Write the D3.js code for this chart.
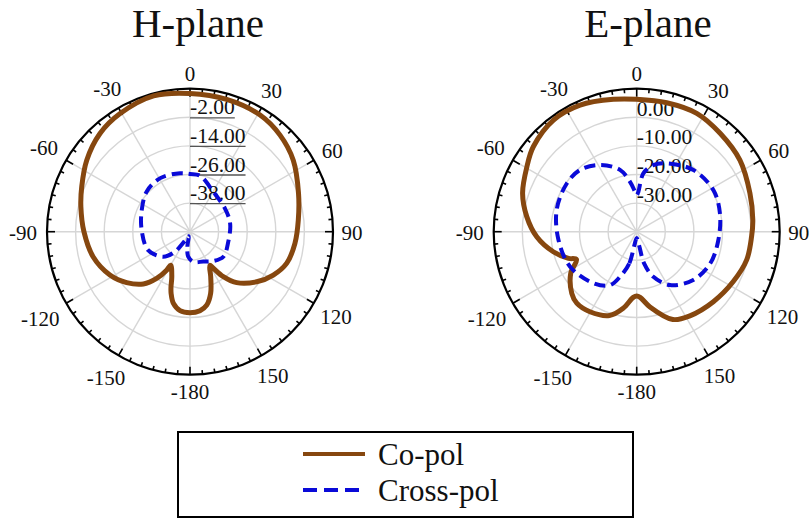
<!DOCTYPE html>
<html>
<head>
<meta charset="utf-8">
<script src="https://cdn.jsdelivr.net/npm/d3@7"></script>
<style>
  html, body { margin: 0; padding: 0; background: #fff; }
  svg { display: block; }
  text { font-family: "Liberation Serif", "Times New Roman", serif; fill: #111; }
</style>
</head>
<body>
<svg id="chart" width="809" height="519" font-family="Liberation Serif, Times New Roman, serif"></svg>
<script>
// ---------- data ----------
const angleTickLabels = [0, 30, 60, 90, 120, 150, -180, -150, -120, -90, -60, -30];

const hRadialTicks = [-2, -14, -26, -38];
const hDomain = [-50, 10];
const hCoAngles = [-180,-172.8,-167,-163,-161,-158,-150,-148.7,-144.5,-138.3,-128.8,-118.4,-104.5,-90,-77,-67.4,-55.3,-42.5,-30.6,-15,0,15.5,31,43,55.3,70.5,83.9,96.3,108,117.5,126.9,137.5,143.5,147.5,149.5,155.3,161.5,167.2,172.8];
const hCoValues = [-16.0,-16.6,-19.1,-22.9,-25.5,-29.6,-33.8,-31.1,-25.9,-20.6,-15.9,-11.8,-8.0,-5.5,-3.0,-0.8,2.7,5.9,7.6,9.0,8.0,7.6,7.1,5.4,2.7,-1.7,-4.3,-5.7,-7.3,-10.6,-15.0,-21.0,-26.5,-31.8,-33.6,-29.2,-22.7,-18.4,-16.6];
const hXAngles = [-176,-170,-165,-158,-143,-133,-113.7,-88,-65.8,-47,-29,-9.7,0,10,30.3,56.3,78,104.6,126.9,141.5,156,173.7];
const hXValues = [-39.5,-43.6,-48.0,-47.5,-39.5,-34.6,-30.8,-29.7,-27.8,-25.2,-24.3,-25.1,-25.8,-26.1,-30.6,-32.4,-32.8,-33.4,-32.5,-34.3,-36.3,-37.3];

const eRadialTicks = [0, -10, -20, -30];
const eDomain = [-40, 10];
const eCoAngles = [-177,-170,-162,-149.7,-140,-133.5,-122.3,-114.8,-111.3,-103.5,-92.9,-82.2,-71.4,-59.4,-50.6,-36.7,-24.1,-10,0,13.1,26.9,40.3,55.3,71.3,84.3,92.5,104.4,117.3,132.4,147.7,157.6,170,177,180];
const eCoValues = [-17.0,-12.8,-9.2,-7.6,-7.4,-8.7,-12.7,-16.8,-14.4,-10.0,-5.0,-1.2,2.1,4.6,6.8,8.7,8.5,7.0,6.3,6.3,6.4,5.1,3.9,1.8,0.8,0.2,-0.3,-2.0,-3.7,-5.2,-6.8,-13.3,-17.0,-17.5];
const eXAngles = [-170,-166.8,-159.7,-153.4,-140,-117.7,-96,-74.8,-55.4,-42.6,-28.8,-15.1,-7.6,-2.4,0,2.4,6.5,14,23.7,42.6,61.5,77.6,95.8,113.4,130.5,148,159.7,166.8,170,180];
const eXValues = [-35.0,-28.5,-23.2,-19.1,-16.5,-13.7,-12.5,-11.0,-10.3,-10.7,-13.4,-17.6,-22.4,-26.0,-27.2,-26.0,-19.5,-16.0,-13.9,-10.7,-9.5,-10.2,-11.3,-12.0,-14.0,-18.0,-23.2,-28.5,-35.0,-37.8];

const titles = ["H-plane", "E-plane"];
const legendLabels = ["Co-pol", "Cross-pol"];

// ---------- drawing ----------
const svg = d3.select("#chart");
const R = 143;
const coColor = "#86470f";
const xColor = "#0a0ad8";
const gridColor = "#d6d6d6";
const FONT = "Liberation Serif, Times New Roman, serif";
const rad = d => d * Math.PI / 180;
const fmt2 = d3.formatLocale({decimal: ".", thousands: ",", grouping: [3], currency: ["", ""], minus: "-"}).format(".2f");

function drawPolar(cfg) {
  const g = svg.append("g").attr("transform", `translate(${cfg.cx},${cfg.cy})`);
  const r = d3.scaleLinear().domain(cfg.domain).range([0, R]);

  // rings
  g.selectAll("circle.ring").data(cfg.radialTicks).join("circle")
    .attr("r", d => r(d)).attr("fill", "none")
    .attr("stroke", gridColor).attr("stroke-width", 1.4);

  // spokes
  const spokes = d3.range(0, 360, 30);
  g.selectAll("line.spoke").data(spokes).join("line")
    .attr("x1", 0).attr("y1", 0)
    .attr("x2", d => R * Math.sin(rad(d)))
    .attr("y2", d => -R * Math.cos(rad(d)))
    .attr("stroke", gridColor).attr("stroke-width", 1.4);

  // radial labels
  const lab = g.selectAll("g.rlab").data(cfg.radialTicks).join("g");
  lab.append("text")
    .attr("font-family", FONT)
    .attr("x", 0).attr("y", d => -r(d) - (cfg.underline ? 3 : 1.5))
    .attr("font-size", 21.5)
    .text(d => fmt2(d));
  if (cfg.underline) {
    lab.each(function(d) {
      const t = d3.select(this).select("text").node();
      const w = t.getComputedTextLength();
      d3.select(this).append("line")
        .attr("x1", 0).attr("x2", w)
        .attr("y1", -r(d) + 0.5).attr("y2", -r(d) + 0.5)
        .attr("stroke", "#555").attr("stroke-width", 1.3);
    });
  }

  // outer circle
  g.append("circle").attr("r", R).attr("fill", "none")
    .attr("stroke", "#000").attr("stroke-width", 2.2);

  // ticks
  const ticks = d3.range(0, 360, 5);
  g.selectAll("line.tick").data(ticks).join("line")
    .attr("x1", d => R * Math.sin(rad(d)))
    .attr("y1", d => -R * Math.cos(rad(d)))
    .attr("x2", d => (R - (d % 30 === 0 ? 8 : 4)) * Math.sin(rad(d)))
    .attr("y2", d => -(R - (d % 30 === 0 ? 8 : 4)) * Math.cos(rad(d)))
    .attr("stroke", "#000").attr("stroke-width", 1.6);

  // angle labels
  g.selectAll("text.alab").data(angleTickLabels).join("text")
    .attr("font-family", FONT)
    .attr("font-size", 21)
    .attr("text-anchor", "middle")
    .attr("dominant-baseline", "central")
    .each(function(d) {
      const s = Math.sin(rad(d)), c = Math.cos(rad(d));
      const w = String(d).length * 10;
      const rr = R + 9 + Math.abs(s) * w / 2 + Math.abs(c) * 7;
      d3.select(this).attr("x", rr * s).attr("y", -rr * c + 1);
    })
    .text(d => String(d));

  // lines
  const line = d3.lineRadial()
    .angle(d => rad(d[0]))
    .radius(d => r(d[1]))
    .curve(d3.curveCatmullRomClosed.alpha(0.5));

  g.append("path")
    .attr("d", line(d3.zip(cfg.coA, cfg.coV)))
    .attr("fill", "none").attr("stroke", coColor)
    .attr("stroke-width", 5).attr("stroke-linejoin", "round");

  g.append("path")
    .attr("d", line(d3.zip(cfg.xA, cfg.xV)))
    .attr("fill", "none").attr("stroke", xColor)
    .attr("stroke-width", 4).attr("stroke-dasharray", "11,6");

  svg.append("text")
    .attr("font-family", FONT)
    .attr("x", cfg.titleX).attr("y", 37)
    .attr("text-anchor", "middle").attr("font-size", 41)
    .text(cfg.title);
}

drawPolar({cx: 190, cy: 231.7, domain: hDomain, radialTicks: hRadialTicks, underline: true,
  coA: hCoAngles, coV: hCoValues, xA: hXAngles, xV: hXValues, title: titles[0], titleX: 198});
drawPolar({cx: 636.7, cy: 231.7, domain: eDomain, radialTicks: eRadialTicks, underline: false,
  coA: eCoAngles, coV: eCoValues, xA: eXAngles, xV: eXValues, title: titles[1], titleX: 648});

// legend
const lg = svg.append("g");
lg.append("rect").attr("x", 178).attr("y", 432).attr("width", 455).attr("height", 85)
  .attr("fill", "#fff").attr("stroke", "#000").attr("stroke-width", 2);
const items = [
  {label: legendLabels[0], color: coColor, dash: null, y: 454},
  {label: legendLabels[1], color: xColor, dash: "14,7", y: 490}
];
items.forEach(it => {
  lg.append("line").attr("x1", 303).attr("x2", 365).attr("y1", it.y).attr("y2", it.y)
    .attr("stroke", it.color).attr("stroke-width", 4).attr("stroke-dasharray", it.dash);
  lg.append("text").attr("font-family", FONT).attr("x", 378).attr("y", it.y).attr("dominant-baseline", "central")
    .attr("font-size", 31).text(it.label);
});
</script>
</body>
</html>
